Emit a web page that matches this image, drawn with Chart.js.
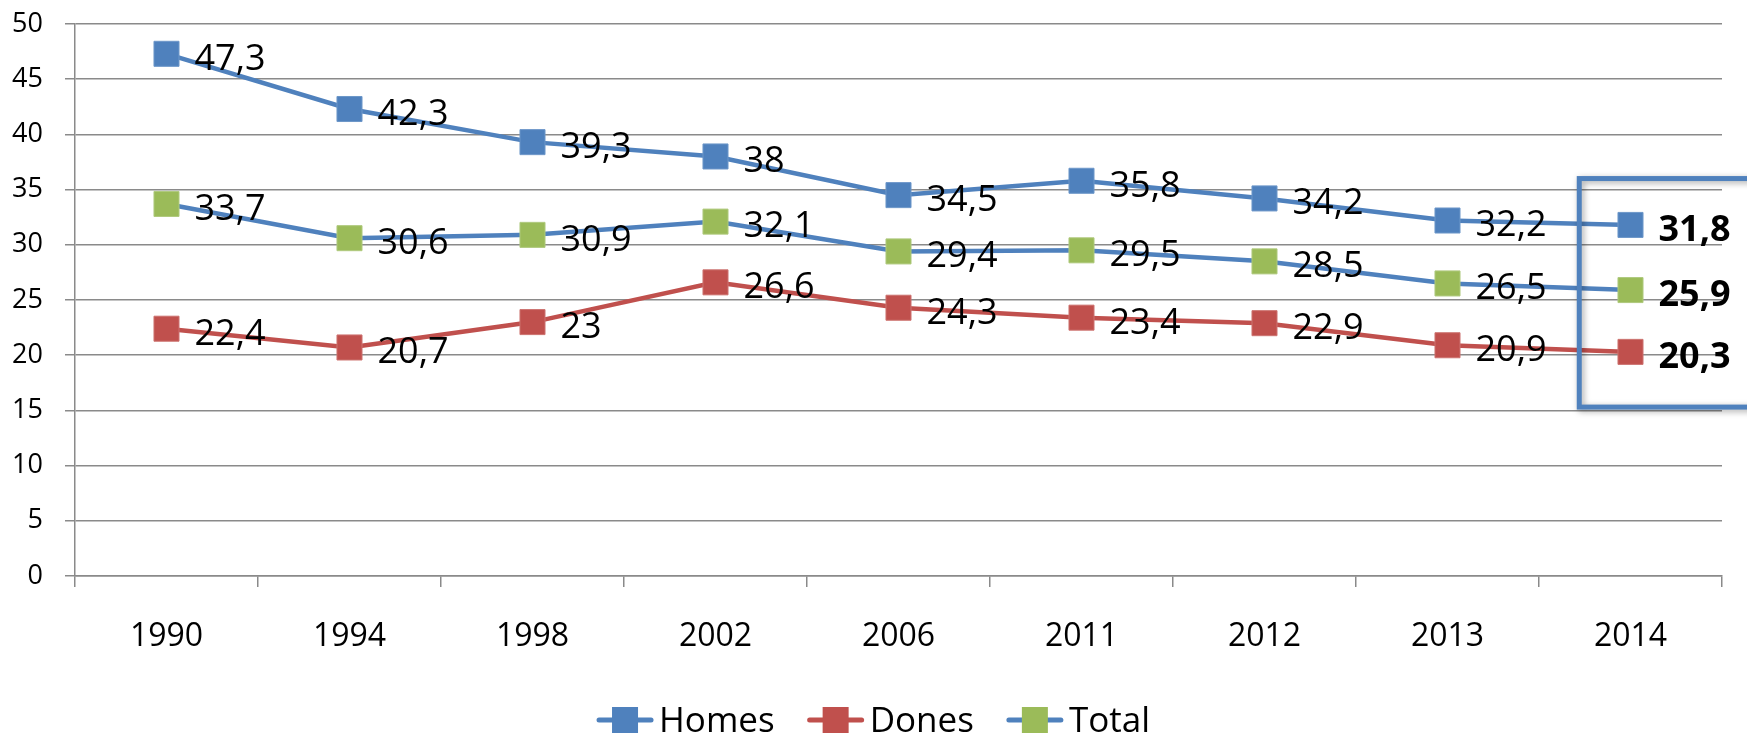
<!DOCTYPE html>
<html><head><meta charset="utf-8">
<script src="https://cdn.jsdelivr.net/npm/chart.js@4"></script>
<style>html,body{margin:0;padding:0;background:#fff;overflow:hidden}#wrap{width:1747px;height:734px;position:relative}</style>
</head><body><div id="wrap"><canvas id="c"></canvas></div>
<script>
const categories = ['1990','1994','1998','2002','2006','2011','2012','2013','2014'];
const homes = [47.3, 42.3, 39.3, 38, 34.5, 35.8, 34.2, 32.2, 31.8];
const dones = [22.4, 20.7, 23, 26.6, 24.3, 23.4, 22.9, 20.9, 20.3];
const total = [33.7, 30.6, 30.9, 32.1, 29.4, 29.5, 28.5, 26.5, 25.9];
const seriesNames = ['Homes', 'Dones', 'Total'];
const yTickValues = [0, 5, 10, 15, 20, 25, 30, 35, 40, 45, 50];
const highlightValueRange = [36, 15.3]; // value span of the highlight frame on the last year

const FONT = '"Open Sans", "Noto Sans", sans-serif';
const BLUE = '#4F81BD', RED = '#C0504D', GREEN = '#9BBB59';
const GRID = '#8a8a8a';
const fmt = v => String(v).replace('.', ',');

const lineSeries = [
  {label: seriesNames[0], data: homes, line: BLUE, marker: BLUE, markerBorder: '#6d97c9'},
  {label: seriesNames[1], data: dones, line: RED, marker: RED, markerBorder: '#cd7370'},
  {label: seriesNames[2], data: total, line: BLUE, marker: GREEN, markerBorder: '#afc97d'}
];

const highlightPlugin = {
  id: 'highlight',
  afterDatasetsDraw(chart) {
    const ctx = chart.ctx, x = chart.scales.x, y = chart.scales.y;
    const last = categories.length - 1;
    const cw = x.getPixelForValue(1) - x.getPixelForValue(0);
    const left = x.getPixelForValue(last) - 0.28 * cw;
    const top = y.getPixelForValue(highlightValueRange[0]);
    const bottom = y.getPixelForValue(highlightValueRange[1]);
    ctx.save();
    ctx.shadowColor = 'rgba(0,0,0,0.35)';
    ctx.shadowBlur = 6; ctx.shadowOffsetX = 2; ctx.shadowOffsetY = 2;
    ctx.strokeStyle = BLUE; ctx.lineWidth = 5;
    ctx.strokeRect(left, top, chart.width + 20 - left, bottom - top);
    ctx.restore();
  }
};

const labelPlugin = {
  id: 'valueLabels',
  afterDatasetsDraw(chart) {
    const ctx = chart.ctx;
    ctx.save();
    ctx.fillStyle = '#000'; ctx.textAlign = 'left'; ctx.textBaseline = 'alphabetic';
    chart.data.datasets.forEach((ds, i) => {
      const meta = chart.getDatasetMeta(i);
      meta.data.forEach((pt, j) => {
        const isLast = j === ds.data.length - 1;
        const size = 36;
        ctx.font = (isLast ? 'bold ' : '') + size + 'px ' + FONT;
        ctx.fillText(fmt(ds.data[j]), pt.x + 28, pt.y + 3 + 0.357 * size);
      });
    });
    ctx.restore();
  }
};

const legendPlugin = {
  id: 'customLegend',
  afterDraw(chart) {
    const ctx = chart.ctx;
    const size = 35;
    ctx.save();
    ctx.font = size + 'px ' + FONT;
    const lineLen = 56, textGap = 6, itemGap = 33, mk = 26;
    const widths = lineSeries.map(s => lineLen + textGap + ctx.measureText(s.label).width);
    const totalW = widths.reduce((a, b) => a + b, 0) + itemGap * (lineSeries.length - 1);
    let x0 = chart.width / 2 - totalW / 2;
    const cy = 720;
    lineSeries.forEach((s, i) => {
      ctx.strokeStyle = s.line; ctx.lineWidth = 5; ctx.lineCap = 'round';
      ctx.beginPath(); ctx.moveTo(x0 + 2, cy); ctx.lineTo(x0 + lineLen - 2, cy); ctx.stroke();
      ctx.fillStyle = s.marker;
      ctx.fillRect(x0 + lineLen / 2 - mk / 2, cy - mk / 2, mk, mk);
      ctx.fillStyle = '#000'; ctx.textAlign = 'left'; ctx.textBaseline = 'alphabetic';
      ctx.fillText(s.label, x0 + lineLen + textGap, cy + 0.357 * size);
      x0 += widths[i] + itemGap;
    });
    ctx.restore();
  }
};

new Chart(document.getElementById('c'), {
  type: 'line',
  data: {
    labels: categories,
    datasets: lineSeries.map(s => ({
      label: s.label,
      data: s.data,
      borderColor: s.line,
      borderWidth: 4.5,
      backgroundColor: s.marker,
      pointStyle: 'rect',
      pointRadius: 17.7,
      pointHoverRadius: 17.7,
      pointBackgroundColor: s.marker,
      pointBorderColor: s.markerBorder,
      pointBorderWidth: 1,
      tension: 0,
      fill: false,
      clip: false
    }))
  },
  options: {
    responsive: true,
    maintainAspectRatio: false,
    animation: false,
    events: [],
    layout: {padding: {top: 24, right: 25, bottom: 0, left: 0}},
    plugins: {legend: {display: false}, tooltip: {enabled: false}},
    scales: {
      x: {
        type: 'category',
        offset: true,
        grid: {offset: true, drawOnChartArea: false, drawTicks: true, tickLength: 11, color: GRID, lineWidth: 1.5},
        border: {display: true, color: GRID, width: 1.5},
        ticks: {color: '#000', font: {family: FONT, size: 32}, padding: 31, maxRotation: 0, autoSkip: false},
        afterFit(scale) { scale.height = 158; scale.paddingLeft = 0; scale.paddingRight = 0; }
      },
      y: {
        min: 0, max: 50,
        afterBuildTicks(scale) { scale.ticks = yTickValues.map(v => ({value: v})); },
        grid: {color: GRID, lineWidth: 1.5, tickLength: 10, drawTicks: true},
        border: {display: true, color: GRID, width: 1.5},
        ticks: {color: '#000', font: {family: FONT, size: 27}, padding: 22},
        afterFit(scale) { scale.width = 75; scale.paddingTop = 0; scale.paddingBottom = 0; }
      }
    }
  },
  plugins: [highlightPlugin, labelPlugin, legendPlugin]
});
</script>
</body></html>
